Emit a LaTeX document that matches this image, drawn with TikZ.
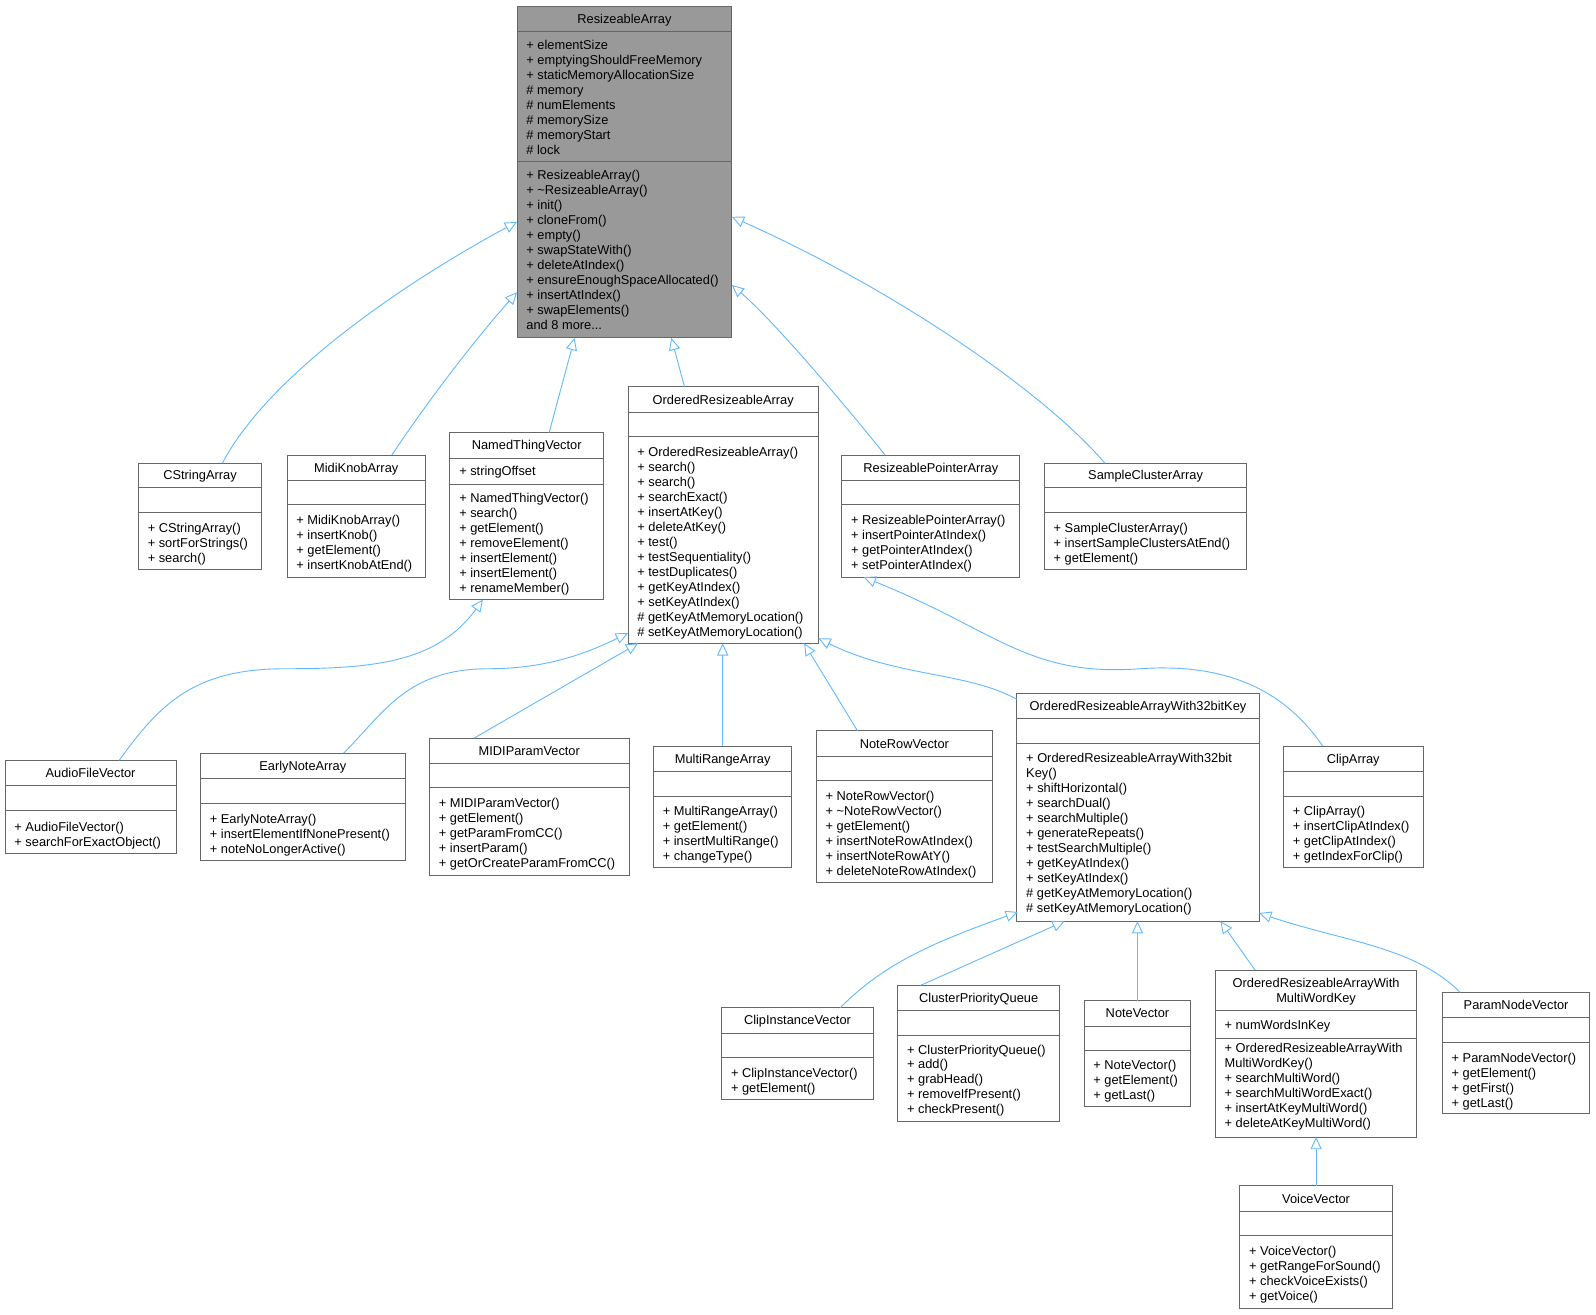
\documentclass[tikz,border=0pt]{standalone}
\usepackage{fontspec}
\setmainfont{Liberation Sans}
\usetikzlibrary{arrows.meta}
\definecolor{edgeblue}{HTML}{63B8FF}
\definecolor{boxgray}{HTML}{666666}
\tikzset{
  cbox/.style={draw=boxgray,line width=0.9pt,inner sep=0pt,outer sep=0pt,anchor=north west},
  txt/.style={inner sep=0pt,font=\fontsize{12.6}{14.7}\selectfont},
  inh/.style={draw=edgeblue,line width=0.9pt,-{Triangle[open,length=12pt,width=11pt]}}
}
\newcommand\cls[8]{%
  \node[cbox,fill=#6,minimum width={#4pt-#2pt},minimum height={#5pt-#3pt}] (#1) at (#2,#3) {};
  \node[txt,anchor=base] at ({(#2+#4)/2},#8) {#7};}
\newcommand\hsep[3]{\draw[boxgray,line width=0.9pt] (#1,#3) -- (#2,#3);}
\newcommand\rows[3]{\foreach \t [count=\i] in {#3} {\node[txt,anchor=base west] at ({#1+9},{#2+(\i-1)*14.7}) {\t};}}
\begin{document}
\begin{tikzpicture}[x=1pt,y=-1pt]
\useasboundingbox (0,0) rectangle (1568,1291);
% ResizeableArray
\cls{ra}{508}{6}{719}{332}{black!40}{ResizeableArray}{23}
\hsep{508}{719}{31}\hsep{508}{719}{159}
\rows{508}{48.5}{+ elementSize,+ emptyingShouldFreeMemory,+ staticMemoryAllocationSize,\# memory,\# numElements,\# memorySize,\# memoryStart,\# lock}
\rows{508}{176.5}{+ ResizeableArray(),+ \textasciitilde ResizeableArray(),+ init(),+ cloneFrom(),+ empty(),+ swapStateWith(),+ deleteAtIndex(),+ ensureEnoughSpaceAllocated(),+ insertAtIndex(),+ swapElements(),and 8 more.{}.{}.}
% CStringArray
\cls{csa}{136}{455}{257}{559}{white}{CStringArray}{471.5}
\hsep{136}{257}{479}\hsep{136}{257}{503}
\rows{136}{523.5}{+ CStringArray(),+ sortForStrings(),+ search()}
% MidiKnobArray
\cls{mka}{282}{447}{418}{567}{white}{MidiKnobArray}{464}
\hsep{282}{418}{472}\hsep{282}{418}{496}
\rows{282}{515.5}{+ MidiKnobArray(),+ insertKnob(),+ getElement(),+ insertKnobAtEnd()}
% NamedThingVector
\cls{ntv}{442}{425}{593}{589}{white}{NamedThingVector}{442}
\hsep{442}{593}{450}\hsep{442}{593}{476}
\rows{442}{467.5}{+ stringOffset}
\rows{442}{493.5}{+ NamedThingVector(),+ search(),+ getElement(),+ removeElement(),+ insertElement(),+ insertElement(),+ renameMember()}
% OrderedResizeableArray
\cls{ora}{617}{380}{804}{632}{white}{OrderedResizeableArray}{397}
\hsep{617}{804}{405}\hsep{617}{804}{429}
\rows{617}{448.5}{+ OrderedResizeableArray(),+ search(),+ search(),+ searchExact(),+ insertAtKey(),+ deleteAtKey(),+ test(),+ testSequentiality(),+ testDuplicates(),+ getKeyAtIndex(),+ setKeyAtIndex(),\# getKeyAtMemoryLocation(),\# setKeyAtMemoryLocation()}
% ResizeablePointerArray
\cls{rpa}{827}{447}{1002}{567}{white}{ResizeablePointerArray}{464}
\hsep{827}{1002}{472}\hsep{827}{1002}{496}
\rows{827}{515.5}{+ ResizeablePointerArray(),+ insertPointerAtIndex(),+ getPointerAtIndex(),+ setPointerAtIndex()}
% SampleClusterArray
\cls{sca}{1026}{455}{1225}{559}{white}{SampleClusterArray}{471.5}
\hsep{1026}{1225}{479}\hsep{1026}{1225}{503}
\rows{1026}{523.5}{+ SampleClusterArray(),+ insertSampleClustersAtEnd(),+ getElement()}
% AudioFileVector
\cls{afv}{5}{747}{173}{838}{white}{AudioFileVector}{764}
\hsep{5}{173}{772}\hsep{5}{173}{796}
\rows{5}{816.5}{+ AudioFileVector(),+ searchForExactObject()}
% EarlyNoteArray
\cls{ena}{197}{740}{398}{845}{white}{EarlyNoteArray}{757}
\hsep{197}{398}{765}\hsep{197}{398}{789}
\rows{197}{809.5}{+ EarlyNoteArray(),+ insertElementIfNonePresent(),+ noteNoLongerActive()}
% MIDIParamVector
\cls{mpv}{422}{725}{618}{860}{white}{MIDIParamVector}{742}
\hsep{422}{618}{750}\hsep{422}{618}{774}
\rows{422}{793.5}{+ MIDIParamVector(),+ getElement(),+ getParamFromCC(),+ insertParam(),+ getOrCreateParamFromCC()}
% MultiRangeArray
\cls{mra}{642}{733}{778}{852}{white}{MultiRangeArray}{750}
\hsep{642}{778}{758}\hsep{642}{778}{782}
\rows{642}{801.5}{+ MultiRangeArray(),+ getElement(),+ insertMultiRange(),+ changeType()}
% NoteRowVector
\cls{nrv}{802}{718}{975}{867}{white}{NoteRowVector}{735}
\hsep{802}{975}{743}\hsep{802}{975}{767}
\rows{802}{786.5}{+ NoteRowVector(),+ \textasciitilde NoteRowVector(),+ getElement(),+ insertNoteRowAtIndex(),+ insertNoteRowAtY(),+ deleteNoteRowAtIndex()}
% OrderedResizeableArrayWith32bitKey
\cls{or32}{999}{681}{1237}{905}{white}{OrderedResizeableArrayWith32bitKey}{698}
\hsep{999}{1237}{706}\hsep{999}{1237}{730}
\rows{999}{749.5}{+ OrderedResizeableArrayWith32bit,Key(),+ shiftHorizontal(),+ searchDual(),+ searchMultiple(),+ generateRepeats(),+ testSearchMultiple(),+ getKeyAtIndex(),+ setKeyAtIndex(),\# getKeyAtMemoryLocation(),\# setKeyAtMemoryLocation()}
% ClipArray
\cls{ca}{1261}{733}{1398}{852}{white}{ClipArray}{750}
\hsep{1261}{1398}{758}\hsep{1261}{1398}{782}
\rows{1261}{801.5}{+ ClipArray(),+ insertClipAtIndex(),+ getClipAtIndex(),+ getIndexForClip()}
% ClipInstanceVector
\cls{civ}{709}{990}{858}{1080}{white}{ClipInstanceVector}{1007}
\hsep{709}{858}{1015}\hsep{709}{858}{1039}
\rows{709}{1058.5}{+ ClipInstanceVector(),+ getElement()}
% ClusterPriorityQueue
\cls{cpq}{882}{968}{1041}{1102}{white}{ClusterPriorityQueue}{985}
\hsep{882}{1041}{993}\hsep{882}{1041}{1017}
\rows{882}{1035.5}{+ ClusterPriorityQueue(),+ add(),+ grabHead(),+ removeIfPresent(),+ checkPresent()}
% NoteVector
\cls{nv}{1065}{983}{1170}{1087}{white}{NoteVector}{1000}
\hsep{1065}{1170}{1008}\hsep{1065}{1170}{1032}
\rows{1065}{1050.5}{+ NoteVector(),+ getElement(),+ getLast()}
% OrderedResizeableArrayWithMultiWordKey
\cls{mwk}{1194}{953}{1392}{1117}{white}{OrderedResizeableArrayWith}{970.5}
\node[txt,anchor=base] at (1293,985) {MultiWordKey};
\hsep{1194}{1392}{993}\hsep{1194}{1392}{1020}
\rows{1194}{1011.5}{+ numWordsInKey}
\rows{1194}{1034.5}{+ OrderedResizeableArrayWith,MultiWordKey(),+ searchMultiWord(),+ searchMultiWordExact(),+ insertAtKeyMultiWord(),+ deleteAtKeyMultiWord()}
% ParamNodeVector
\cls{pnv}{1417}{975}{1562}{1094}{white}{ParamNodeVector}{992}
\hsep{1417}{1562}{1000}\hsep{1417}{1562}{1024}
\rows{1417}{1043.5}{+ ParamNodeVector(),+ getElement(),+ getFirst(),+ getLast()}
% VoiceVector
\cls{vv}{1218}{1165}{1368}{1285}{white}{VoiceVector}{1182}
\hsep{1218}{1368}{1190}\hsep{1218}{1368}{1214}
\rows{1218}{1233.5}{+ VoiceVector(),+ getRangeForSound(),+ checkVoiceExists(),+ getVoice()}
% inheritance edges
\draw[inh] ([xshift=22pt]csa.north) .. controls +(50,-95) and (420,265) .. ([yshift=-212pt]ra.north west);
\draw[inh] ([xshift=35pt]mka.north) .. controls +(40,-60) and (470,330) .. ([yshift=-281pt]ra.north west);
\draw[inh] ([xshift=22pt]ntv.north) -- ([xshift=-49pt]ra.south);
\draw[inh] ([xshift=-38pt]ora.north) -- ([xshift=46pt]ra.south);
\draw[inh] ([xshift=-45pt]rpa.north) .. controls +(-40,-50) and (760,315) .. ([yshift=-274pt]ra.north east);
\draw[inh] ([xshift=-40pt]sca.north) .. controls +(-60,-70) and (880,285) .. ([yshift=-207pt]ra.north east);
\draw[inh] ([xshift=28pt]afv.north) .. controls +(40,-55) and (190,657) .. (280,657) .. controls (370,657) and (430,650) .. ([xshift=-43pt]ntv.south);
\draw[inh] ([xshift=40pt]ena.north) .. controls +(40,-40) and (400,657) .. (480,657) .. controls (540,657) and (580,640) .. ([yshift=-242pt]ora.north west);
\draw[inh] ([xshift=-54pt]mpv.north) -- ([xshift=10pt]ora.south west);
\draw[inh] (mra.north) -- (mra.north |- ora.south);
\draw[inh] ([xshift=-46pt]nrv.north) -- ([xshift=-14pt]ora.south east);
\draw[inh] ([yshift=-6pt]or32.north west) .. controls (950,660) and (880,665) .. ([yshift=-247pt]ora.north east);
\draw[inh] ([xshift=-30pt]ca.north) .. controls (1270,690) and (1220,650) .. (1120,657) .. controls (1010,665) and (980,620) .. ([xshift=-66pt]rpa.south);
\draw[inh] ([xshift=42pt]civ.north) .. controls (870,945) and (920,925) .. ([xshift=1pt,yshift=9pt]or32.south west);
\draw[inh] ([xshift=-57pt]cpq.north) -- ([xshift=47pt]or32.south west);
\draw[inh] (nv.north) -- (nv.north |- or32.south);
\draw[inh] ([xshift=-60pt]mwk.north) -- ([xshift=-38pt]or32.south east);
\draw[inh] ([xshift=-55pt]pnv.north) .. controls (1390,930) and (1320,925) .. ([yshift=8pt]or32.south east);
\draw[inh] (vv.north) -- (vv.north |- mwk.south);
\end{tikzpicture}
\end{document}
